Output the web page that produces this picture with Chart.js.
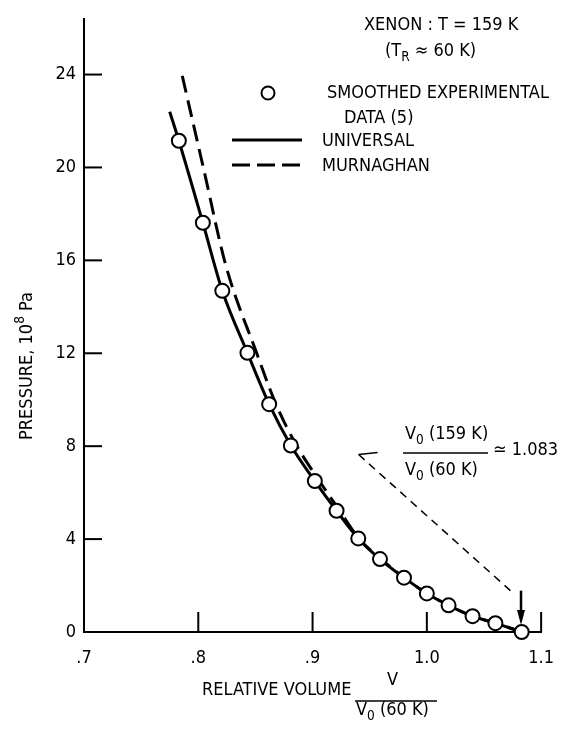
<!DOCTYPE html>
<html>
<head>
<meta charset="utf-8">
<script src="https://cdn.jsdelivr.net/npm/chart.js@4"></script>
<style>
  body { margin: 0; background: #fff; }
</style>
</head>
<body>
<canvas id="xenonChart" width="570" height="730"></canvas>
<script>
// smoothed experimental data (circles)
const volumes = [0.783, 0.804, 0.821, 0.843, 0.862, 0.881, 0.902, 0.921, 0.940, 0.959, 0.980, 1.000, 1.019, 1.040, 1.060, 1.083];
const pressures = [21.15, 17.62, 14.69, 12.02, 9.81, 8.03, 6.50, 5.22, 4.03, 3.14, 2.34, 1.66, 1.15, 0.68, 0.38, 0];

// universal equation of state (solid)
const universalV = [0.775, 0.783, 0.804, 0.821, 0.843, 0.862, 0.881, 0.902, 0.921, 0.940, 0.959, 0.980, 1.000, 1.019, 1.040, 1.060, 1.083];
const universalP = [22.4, 21.15, 17.62, 14.69, 12.02, 9.81, 8.03, 6.50, 5.22, 4.03, 3.14, 2.34, 1.66, 1.15, 0.68, 0.38, 0];

// murnaghan (dashed)
const murnaghanV = [0.786, 0.805, 0.824, 0.851, 0.868, 0.886, 0.906, 0.924, 0.941, 0.960, 0.980, 1.000, 1.019, 1.040, 1.060, 1.083];
const murnaghanP = [23.94, 19.87, 15.8, 12.02, 9.81, 8.03, 6.5, 5.2, 4.0, 3.14, 2.34, 1.66, 1.15, 0.68, 0.38, 0];

const xTicks = [0.7, 0.8, 0.9, 1.0, 1.1];
const xTickLabels = [".7", ".8", ".9", "1.0", "1.1"];
const yTicks = [0, 4, 8, 12, 16, 20, 24];

// pointer from the ratio label down to V0(159 K)/V0(60 K) = 1.083
const pointerV = [0.9403, 1.0731];
const pointerP = [7.64, 1.78];
const arrowV = 1.0824;
const arrowP = [1.78, 0.3];

const FONT = '"Liberation Sans Narrow", "DejaVu Sans Condensed", sans-serif';

function toPoints(xs, ys) {
  return xs.map((v, i) => ({ x: v, y: ys[i] }));
}

// draw a run of text pieces, some of them sub/superscript
function drawRuns(ctx, x, y, runs, size) {
  ctx.textBaseline = "middle";
  ctx.textAlign = "left";
  let cx = x;
  runs.forEach(r => {
    const small = r[1] === "sub" || r[1] === "sup";
    const s = small ? size * 0.75 : size;
    ctx.font = s + "px " + FONT;
    let dy = 0;
    if (r[1] === "sub") dy = size * 0.38;
    if (r[1] === "sup") dy = -size * 0.38;
    ctx.fillText(r[0], cx, y + dy);
    cx += ctx.measureText(r[0]).width;
  });
  return cx - x;
}

function runsWidth(ctx, runs, size) {
  let w = 0;
  runs.forEach(r => {
    const small = r[1] === "sub" || r[1] === "sup";
    ctx.font = (small ? size * 0.75 : size) + "px " + FONT;
    w += ctx.measureText(r[0]).width;
  });
  return w;
}

function line(ctx, x1, y1, x2, y2) {
  ctx.beginPath();
  ctx.moveTo(x1, y1);
  ctx.lineTo(x2, y2);
  ctx.stroke();
}

const extras = {
  id: "extras",
  afterDraw(chart) {
    const { ctx, chartArea: a, scales: { x, y } } = chart;
    ctx.save();
    ctx.strokeStyle = "#000";
    ctx.fillStyle = "#000";

    // inward tick marks
    ctx.lineWidth = 2;
    xTicks.slice(1).forEach(v => {
      const px = x.getPixelForValue(v);
      line(ctx, px, a.bottom, px, a.bottom - 20);
    });
    yTicks.slice(1).forEach(v => {
      const py = y.getPixelForValue(v);
      line(ctx, a.left, py, a.left + 18, py);
    });

    // legend
    ctx.lineWidth = 2;
    ctx.beginPath();
    ctx.arc(268, 93, 6.5, 0, Math.PI * 2);
    ctx.stroke();
    ctx.lineWidth = 3;
    line(ctx, 232, 140, 302, 140);
    ctx.setLineDash([18, 7]);
    line(ctx, 232, 165, 302, 165);
    ctx.setLineDash([]);
    drawRuns(ctx, 327, 93, [["SMOOTHED EXPERIMENTAL"]], 18);
    drawRuns(ctx, 344, 118, [["DATA (5)"]], 18);
    drawRuns(ctx, 322, 141, [["UNIVERSAL"]], 18);
    drawRuns(ctx, 322, 166, [["MURNAGHAN"]], 18);

    // title
    drawRuns(ctx, 364, 25, [["XENON : T = 159 K"]], 18);
    drawRuns(ctx, 385, 51, [["(T"], ["R", "sub"], [" \u2248 60 K)"]], 18);

    // pointer to the 1.083 point
    const p1x = x.getPixelForValue(pointerV[0]), p1y = y.getPixelForValue(pointerP[0]);
    const p2x = x.getPixelForValue(pointerV[1]), p2y = y.getPixelForValue(pointerP[1]);
    ctx.lineWidth = 1.5;
    ctx.setLineDash([8, 6]);
    line(ctx, p1x, p1y, p2x, p2y);
    ctx.setLineDash([]);
    line(ctx, p1x, p1y, p1x + 19, p1y - 2);

    const ax = x.getPixelForValue(arrowV);
    const ay1 = y.getPixelForValue(arrowP[0]), ay2 = y.getPixelForValue(arrowP[1]);
    ctx.lineWidth = 2.5;
    line(ctx, ax, ay1, ax, ay2 - 12);
    ctx.beginPath();
    ctx.moveTo(ax - 4, ay2 - 15);
    ctx.lineTo(ax + 4, ay2 - 15);
    ctx.lineTo(ax, ay2);
    ctx.closePath();
    ctx.fill();

    // ratio label
    drawRuns(ctx, 405, 434, [["V"], ["0", "sub"], [" (159 K)"]], 18);
    ctx.lineWidth = 1.5;
    line(ctx, 403, 453, 488, 453);
    drawRuns(ctx, 405, 470, [["V"], ["0", "sub"], [" (60 K)"]], 18);
    drawRuns(ctx, 493, 450, [["\u2243 1.083"]], 18);

    // x axis title
    drawRuns(ctx, 202, 690, [["RELATIVE VOLUME"]], 18);
    drawRuns(ctx, 387, 680, [["V"]], 18);
    line(ctx, 355, 701, 437, 701);
    drawRuns(ctx, 356, 710, [["V"], ["0", "sub"], [" (60 K)"]], 18);

    // y axis title
    const yRuns = [["PRESSURE, 10"], ["8", "sup"], [" Pa"]];
    const w = runsWidth(ctx, yRuns, 18);
    ctx.translate(27, 366);
    ctx.rotate(-Math.PI / 2);
    drawRuns(ctx, -w / 2, 0, yRuns, 18);

    ctx.restore();
  }
};

const ctx = document.getElementById("xenonChart").getContext("2d");

new Chart(ctx, {
  type: "scatter",
  data: {
    datasets: [
      {
        label: "Smoothed experimental data (5)",
        data: toPoints(volumes, pressures),
        showLine: false,
        pointRadius: 7,
        pointBorderWidth: 2,
        pointBackgroundColor: "#fff",
        pointBorderColor: "#000",
        clip: false,
        order: 0,
      },
      {
        label: "Universal",
        data: toPoints(universalV, universalP),
        showLine: true,
        borderColor: "#000",
        borderWidth: 3,
        pointRadius: 0,
        cubicInterpolationMode: "monotone",
        clip: false,
        order: 1,
      },
      {
        label: "Murnaghan",
        data: toPoints(murnaghanV, murnaghanP),
        showLine: true,
        borderColor: "#000",
        borderWidth: 3,
        borderDash: [17, 8],
        pointRadius: 0,
        cubicInterpolationMode: "monotone",
        clip: false,
        order: 2,
      },
    ],
  },
  options: {
    responsive: false,
    animation: false,
    layout: {
      padding: { top: 10, right: 11, left: 0, bottom: 0 },
    },
    plugins: {
      legend: { display: false },
      tooltip: { enabled: false },
    },
    scales: {
      x: {
        type: "linear",
        min: 0.7,
        max: 1.1,
        afterFit: s => { s.height = 98; },
        afterBuildTicks: s => { s.ticks = xTicks.map(v => ({ value: v })); },
        grid: { display: false, drawTicks: false },
        border: { display: true, color: "#000", width: 2 },
        ticks: {
          color: "#000",
          font: { family: FONT, size: 18 },
          padding: 16,
          maxRotation: 0,
          autoSkip: false,
          callback: (v, i) => xTickLabels[i],
        },
      },
      y: {
        type: "linear",
        min: 0,
        max: 26.4,
        afterFit: s => { s.width = 84; },
        afterBuildTicks: s => { s.ticks = yTicks.map(v => ({ value: v })); },
        grid: { display: false, drawTicks: false },
        border: { display: true, color: "#000", width: 2 },
        ticks: {
          color: "#000",
          font: { family: FONT, size: 18 },
          padding: 8,
          autoSkip: false,
        },
      },
    },
  },
  plugins: [extras],
});
</script>
</body>
</html>
